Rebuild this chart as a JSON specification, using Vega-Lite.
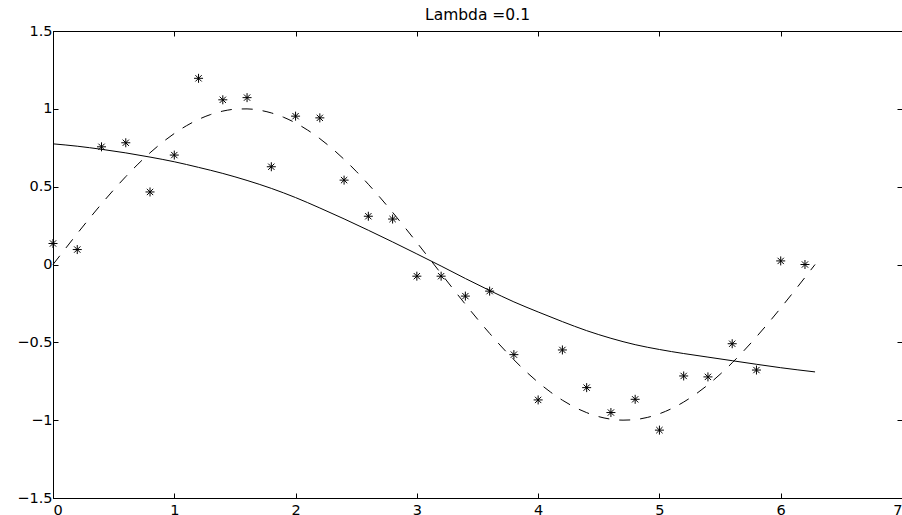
{
  "$schema": "https://vega.github.io/schema/vega-lite/v6.json",
  "width": 849,
  "height": 467,
  "autosize": {"type": "none"},
  "padding": {"left": 53, "top": 31, "right": 0, "bottom": 17},
  "background": "white",
  "title": {"text": "Lambda =0.1", "font": "DejaVu Sans", "fontSize": 15.5, "fontWeight": "normal", "color": "black", "offset": 0, "anchor": "middle", "frame": "group"},
  "config": {
    "view": {"stroke": "black", "strokeWidth": 1},
    "axis": {"grid": false, "domainColor": "black", "domainWidth": 1, "tickColor": "black", "tickWidth": 1, "labelFont": "DejaVu Sans", "labelFontSize": 14.5, "labelColor": "black", "title": null}
  },
  "datasets": {
    "stars": [
      {"x": 0.0, "y": 0.135}, {"x": 0.2, "y": 0.096}, {"x": 0.4, "y": 0.756}, {"x": 0.6, "y": 0.782},
      {"x": 0.8, "y": 0.466}, {"x": 1.0, "y": 0.703}, {"x": 1.2, "y": 1.196}, {"x": 1.4, "y": 1.058},
      {"x": 1.6, "y": 1.072}, {"x": 1.8, "y": 0.628}, {"x": 2.0, "y": 0.953}, {"x": 2.2, "y": 0.942},
      {"x": 2.4, "y": 0.542}, {"x": 2.6, "y": 0.31}, {"x": 2.8, "y": 0.292}, {"x": 3.0, "y": -0.075},
      {"x": 3.2, "y": -0.075}, {"x": 3.4, "y": -0.203}, {"x": 3.6, "y": -0.171}, {"x": 3.8, "y": -0.579},
      {"x": 4.0, "y": -0.87}, {"x": 4.2, "y": -0.549}, {"x": 4.4, "y": -0.791}, {"x": 4.6, "y": -0.951},
      {"x": 4.8, "y": -0.866}, {"x": 5.0, "y": -1.064}, {"x": 5.2, "y": -0.716}, {"x": 5.4, "y": -0.722},
      {"x": 5.6, "y": -0.509}, {"x": 5.8, "y": -0.678}, {"x": 6.0, "y": 0.023}, {"x": 6.2, "y": 0.0}
    ],
    "truth": [
      {"x": 0.0, "y": 0.0}, {"x": 0.1, "y": 0.0998}, {"x": 0.2, "y": 0.1987}, {"x": 0.3, "y": 0.2955},
      {"x": 0.4, "y": 0.3894}, {"x": 0.5, "y": 0.4794}, {"x": 0.6, "y": 0.5646}, {"x": 0.7, "y": 0.6442},
      {"x": 0.8, "y": 0.7174}, {"x": 0.9, "y": 0.7833}, {"x": 1.0, "y": 0.8415}, {"x": 1.1, "y": 0.8912},
      {"x": 1.2, "y": 0.932}, {"x": 1.3, "y": 0.9636}, {"x": 1.4, "y": 0.9854}, {"x": 1.5, "y": 0.9975},
      {"x": 1.6, "y": 0.9996}, {"x": 1.7, "y": 0.9917}, {"x": 1.8, "y": 0.9738}, {"x": 1.9, "y": 0.9463},
      {"x": 2.0, "y": 0.9093}, {"x": 2.1, "y": 0.8632}, {"x": 2.2, "y": 0.8085}, {"x": 2.3, "y": 0.7457},
      {"x": 2.4, "y": 0.6755}, {"x": 2.5, "y": 0.5985}, {"x": 2.6, "y": 0.5155}, {"x": 2.7, "y": 0.4274},
      {"x": 2.8, "y": 0.335}, {"x": 2.9, "y": 0.2392}, {"x": 3.0, "y": 0.1411}, {"x": 3.1, "y": 0.0416},
      {"x": 3.2, "y": -0.0584}, {"x": 3.3, "y": -0.1577}, {"x": 3.4, "y": -0.2555}, {"x": 3.5, "y": -0.3508},
      {"x": 3.6, "y": -0.4425}, {"x": 3.7, "y": -0.5298}, {"x": 3.8, "y": -0.6119}, {"x": 3.9, "y": -0.6878},
      {"x": 4.0, "y": -0.7568}, {"x": 4.1, "y": -0.8183}, {"x": 4.2, "y": -0.8716}, {"x": 4.3, "y": -0.9162},
      {"x": 4.4, "y": -0.9516}, {"x": 4.5, "y": -0.9775}, {"x": 4.6, "y": -0.9937}, {"x": 4.7, "y": -0.9999},
      {"x": 4.8, "y": -0.9962}, {"x": 4.9, "y": -0.9825}, {"x": 5.0, "y": -0.9589}, {"x": 5.1, "y": -0.9258},
      {"x": 5.2, "y": -0.8835}, {"x": 5.3, "y": -0.8323}, {"x": 5.4, "y": -0.7728}, {"x": 5.5, "y": -0.7055},
      {"x": 5.6, "y": -0.6313}, {"x": 5.7, "y": -0.5507}, {"x": 5.8, "y": -0.4646}, {"x": 5.9, "y": -0.3739},
      {"x": 6.0, "y": -0.2794}, {"x": 6.1, "y": -0.1822}, {"x": 6.2, "y": -0.0831}, {"x": 6.2832, "y": 0.0}
    ],
    "fit": [
      {"x": 0.0, "y": 0.775}, {"x": 0.2, "y": 0.76}, {"x": 0.4, "y": 0.74}, {"x": 0.6, "y": 0.717},
      {"x": 0.8, "y": 0.69}, {"x": 1.0, "y": 0.66}, {"x": 1.2, "y": 0.624}, {"x": 1.4, "y": 0.585},
      {"x": 1.6, "y": 0.54}, {"x": 1.8, "y": 0.489}, {"x": 2.0, "y": 0.43}, {"x": 2.2, "y": 0.363},
      {"x": 2.4, "y": 0.293}, {"x": 2.6, "y": 0.22}, {"x": 2.8, "y": 0.145}, {"x": 3.0, "y": 0.068},
      {"x": 3.2, "y": -0.01}, {"x": 3.4, "y": -0.09}, {"x": 3.6, "y": -0.167}, {"x": 3.8, "y": -0.24},
      {"x": 4.0, "y": -0.305}, {"x": 4.2, "y": -0.367}, {"x": 4.4, "y": -0.425}, {"x": 4.6, "y": -0.474},
      {"x": 4.8, "y": -0.515}, {"x": 5.0, "y": -0.546}, {"x": 5.2, "y": -0.572}, {"x": 5.4, "y": -0.595},
      {"x": 5.6, "y": -0.618}, {"x": 5.8, "y": -0.641}, {"x": 6.0, "y": -0.663}, {"x": 6.2832, "y": -0.69}
    ]
  },
  "layer": [
    {
      "data": {"name": "stars"},
      "mark": {"type": "point", "shape": "M0,-1L0,1M-1,0L1,0M-0.7,-0.7L0.7,0.7M-0.7,0.7L0.7,-0.7", "filled": false, "stroke": "black", "strokeWidth": 1, "size": 81, "opacity": 1},
      "encoding": {
        "x": {"field": "x", "type": "quantitative", "scale": {"domain": [0, 7], "nice": false, "zero": false},
              "axis": {"orient": "bottom", "values": [0, 1, 2, 3, 4, 5, 6, 7], "format": "~g", "tickSize": -5, "labelPadding": 10}},
        "y": {"field": "y", "type": "quantitative", "scale": {"domain": [-1.5, 1.5], "nice": false, "zero": false},
              "axis": {"orient": "left", "values": [-1.5, -1, -0.5, 0, 0.5, 1, 1.5], "format": "~g", "tickSize": -5, "labelPadding": 6}}
      }
    },
    {
      "data": {"name": "truth"},
      "mark": {"type": "line", "color": "black", "strokeWidth": 1, "strokeDash": [11, 10], "interpolate": "monotone"},
      "encoding": {
        "x": {"field": "x", "type": "quantitative", "axis": {"orient": "top", "values": [0, 1, 2, 3, 4, 5, 6, 7], "labels": false, "tickSize": -5}},
        "y": {"field": "y", "type": "quantitative", "axis": {"orient": "right", "values": [-1.5, -1, -0.5, 0, 0.5, 1, 1.5], "labels": false, "tickSize": -5}}
      }
    },
    {
      "data": {"name": "fit"},
      "mark": {"type": "line", "color": "black", "strokeWidth": 1, "interpolate": "monotone"},
      "encoding": {
        "x": {"field": "x", "type": "quantitative", "axis": null},
        "y": {"field": "y", "type": "quantitative", "axis": null}
      }
    }
  ],
  "resolve": {"axis": {"x": "independent", "y": "independent"}}
}
